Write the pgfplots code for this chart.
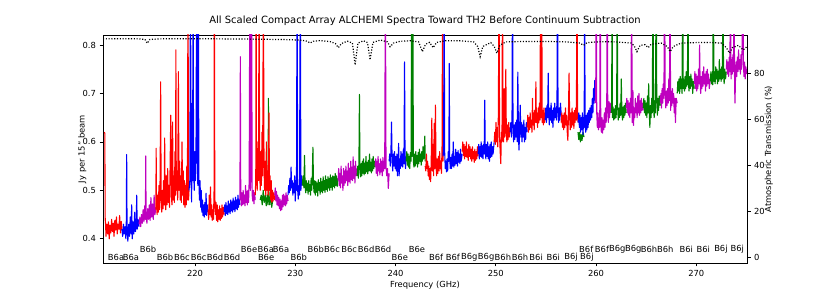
\documentclass[border=0pt]{standalone}
\usepackage{pgfplots}
\pgfplotsset{compat=1.18}
\usepackage{fontspec}
\setmainfont{DejaVu Sans}
\definecolor{cR}{rgb}{1,0,0}
\definecolor{cB}{rgb}{0,0,1}
\definecolor{cG}{rgb}{0,0.5,0}
\definecolor{cM}{rgb}{0.75,0,0.75}
\begin{document}
\begin{tikzpicture}
\path[use as bounding box] (0,0) rectangle (830bp,297bp);
\begin{axis}[
  at={(103bp,34bp)}, anchor=south west,
  scale only axis, width=644bp, height=228bp,
  xmin=210.82, xmax=275.06, ymin=0.350, ymax=0.8207,
  xtick={220,230,240,250,260,270},
  ytick={0.4,0.5,0.6,0.7,0.8},
  xtick pos=left, ytick pos=left,
  tick align=outside, major tick length=3.5bp,
  every tick/.style={black, line width=0.7bp},
  axis line style={line width=0.7bp},
  /pgf/number format/assume math mode=true,
  tick label style={font=\fontsize{8.4}{9.5}\selectfont},
  yticklabel style={/pgf/number format/.cd, fixed, precision=1, fixed zerofill},
  xticklabel style={/pgf/number format/.cd, fixed, precision=0},
  label style={font=\fontsize{8.4}{9.5}\selectfont},
  xlabel={Frequency (GHz)},
  xlabel style={at={(axis description cs:0.5,-0.097)}, anchor=center},
  ylabel={Jy per 15" beam},
  ylabel style={at={(axis description cs:-0.032,0.5)}, anchor=center, rotate=0},
  title={All Scaled Compact Array ALCHEMI Spectra Toward TH2 Before Continuum Subtraction},
  title style={font=\fontsize{10}{12}\selectfont, at={(axis description cs:0.5,1.037)}, anchor=center},
  every axis plot/.append style={line width=1.1bp, line join=round, no markers},
  clip=true,
]
% 1 red
\addplot[cR] coordinates {(210.95,0.62) (211.0,0.618) (211.04,0.44) (211.08,0.43) (211.12,0.405) (211.2,0.43) (211.28,0.41) (211.36,0.435) (211.44,0.40) (211.52,0.428) (211.6,0.412) (211.68,0.44) (211.76,0.415) (211.84,0.432) (211.92,0.405) (212.0,0.438) (212.08,0.418) (212.16,0.445) (212.24,0.41) (212.32,0.43) (212.4,0.42) (212.48,0.448) (212.56,0.412) (212.64,0.436) (212.72,0.418)};
% 2 blue
\addplot[cB] coordinates {(212.7,0.42) (212.78,0.405) (212.86,0.43) (212.94,0.41) (213.02,0.425) (213.1,0.40) (213.15,0.44) (213.18,0.574) (213.22,0.42) (213.3,0.395) (213.38,0.43) (213.46,0.405) (213.54,0.445) (213.62,0.41) (213.68,0.47) (213.74,0.40) (213.82,0.435) (213.9,0.41) (213.98,0.455) (214.06,0.415) (214.14,0.43) (214.18,0.49) (214.24,0.42) (214.32,0.44) (214.42,0.425)};
% 3 magenta
\addplot[cM] coordinates {(214.42,0.43) (214.5,0.445) (214.58,0.425) (214.66,0.45) (214.74,0.432) (214.82,0.46) (214.9,0.435) (214.98,0.468) (215.05,0.44) (215.08,0.571) (215.12,0.45) (215.2,0.432) (215.28,0.462) (215.36,0.44) (215.44,0.47) (215.52,0.438) (215.6,0.485) (215.68,0.445) (215.76,0.472) (215.84,0.44) (215.92,0.49) (216.0,0.45) (216.1,0.465)};
% 4 red
\addplot[cR] coordinates {(216.1,0.46) (216.12,0.587) (216.16,0.47) (216.22,0.45) (216.28,0.49) (216.34,0.455) (216.4,0.51) (216.46,0.46) (216.52,0.53) (216.57,0.724) (216.62,0.48) (216.68,0.455) (216.74,0.5) (216.8,0.462) (216.86,0.52) (216.92,0.47) (216.97,0.608) (217.02,0.48) (217.08,0.46) (217.14,0.53) (217.2,0.47) (217.27,0.545) (217.33,0.475) (217.4,0.51) (217.46,0.465) (217.52,0.56) (217.58,0.655) (217.64,0.49) (217.7,0.47) (217.76,0.641) (217.82,0.48) (217.88,0.53) (217.94,0.475) (218.0,0.58) (218.06,0.49) (218.09,0.79) (218.13,0.5) (218.2,0.54) (218.27,0.48) (218.34,0.745) (218.4,0.5) (218.46,0.56) (218.52,0.48) (218.58,0.53) (218.64,0.475) (218.7,0.6) (218.76,0.49) (218.82,0.54) (218.88,0.47) (218.94,0.52) (219.0,0.465) (219.06,0.51) (219.12,0.47) (219.18,0.55) (219.24,0.48) (219.3,0.95) (219.35,0.48) (219.4,0.5)};
% 5 blue
\addplot[cB] coordinates {(219.4,0.5) (219.48,0.52) (219.55,0.95) (219.6,0.53) (219.66,0.476) (219.72,0.68) (219.76,0.52) (219.8,0.95) (219.86,0.55) (219.92,0.5) (219.98,0.58) (220.04,0.52) (220.1,0.6) (220.16,0.95) (220.22,0.56) (220.28,0.51) (220.33,0.95) (220.38,0.53) (220.44,0.48) (220.5,0.52) (220.56,0.465) (220.62,0.5) (220.68,0.455) (220.74,0.48) (220.8,0.448) (220.86,0.47) (220.92,0.445) (220.98,0.475) (221.04,0.45) (221.1,0.494) (221.16,0.448) (221.22,0.47) (221.3,0.455)};
% 6 red
\addplot[cR] coordinates {(221.3,0.46) (221.36,0.44) (221.42,0.49) (221.48,0.45) (221.54,0.507) (221.6,0.445) (221.66,0.47) (221.72,0.438) (221.78,0.46) (221.84,0.44) (221.9,0.5) (221.93,0.95) (221.97,0.49) (222.03,0.45) (222.09,0.475) (222.15,0.438) (222.21,0.47) (222.27,0.435) (222.33,0.46) (222.39,0.44) (222.45,0.468) (222.51,0.438) (222.57,0.462) (222.63,0.442) (222.69,0.47) (222.75,0.445) (222.82,0.465) (222.9,0.45)};
% 7 blue
\addplot[cB] coordinates {(222.9,0.455) (222.96,0.47) (223.02,0.448) (223.08,0.475) (223.14,0.452) (223.2,0.468) (223.26,0.45) (223.32,0.478) (223.38,0.455) (223.44,0.472) (223.5,0.452) (223.56,0.48) (223.62,0.458) (223.68,0.476) (223.74,0.455) (223.8,0.484) (223.86,0.46) (223.92,0.478) (223.98,0.456) (224.04,0.486) (224.1,0.462) (224.16,0.48) (224.22,0.46) (224.28,0.49) (224.34,0.465) (224.4,0.482) (224.48,0.47)};
% 8 magenta
\addplot[cM] coordinates {(224.48,0.48) (224.52,0.776) (224.56,0.49) (224.62,0.468) (224.68,0.495) (224.74,0.47) (224.8,0.5) (224.86,0.472) (224.92,0.49) (224.98,0.468) (225.04,0.51) (225.1,0.475) (225.16,0.498) (225.22,0.47) (225.28,0.5) (225.34,0.475) (225.4,0.52) (225.47,0.95) (225.52,0.5) (225.58,0.53) (225.64,0.95) (225.7,0.49) (225.76,0.478) (225.82,0.5) (225.88,0.472) (225.94,0.495) (226.0,0.48)};
% hidden green
\addplot[cG] coordinates {(226.5,0.48) (226.6,0.49) (226.7,0.47) (226.8,0.5) (226.9,0.475) (227.0,0.49) (227.1,0.468) (227.2,0.49) (227.28,0.47) (227.32,0.69) (227.36,0.5) (227.45,0.47) (227.55,0.49) (227.65,0.465) (227.75,0.48)};
% 9 red
\addplot[cR] coordinates {(226.0,0.49) (226.06,0.52) (226.09,0.95) (226.13,0.55) (226.2,0.5) (226.27,0.6) (226.33,0.52) (226.39,0.95) (226.44,0.56) (226.5,0.5) (226.56,0.58) (226.62,0.51) (226.68,0.62) (226.74,0.53) (226.82,0.95) (226.88,0.55) (226.94,0.5) (227.0,0.56) (227.06,0.49) (227.12,0.6) (227.18,0.5) (227.24,0.54) (227.3,0.49) (227.38,0.66) (227.42,0.5) (227.48,0.53) (227.54,0.48) (227.6,0.52) (227.66,0.475) (227.72,0.5) (227.78,0.478) (227.86,0.495) (227.95,0.48)};
% 10 magenta
\addplot[cM] coordinates {(227.95,0.49) (228.0,0.505) (228.06,0.478) (228.12,0.498) (228.18,0.47) (228.24,0.49) (228.3,0.468) (228.36,0.485) (228.42,0.462) (228.48,0.482) (228.54,0.458) (228.6,0.478) (228.66,0.46) (228.72,0.49) (228.78,0.466) (228.84,0.492) (228.9,0.47) (228.96,0.488) (229.02,0.468) (229.08,0.495) (229.14,0.472) (229.2,0.49) (229.28,0.478)};
% 11 blue
\addplot[cB] coordinates {(229.28,0.49) (229.34,0.51) (229.4,0.495) (229.46,0.525) (229.52,0.5) (229.58,0.548) (229.64,0.505) (229.7,0.52) (229.76,0.49) (229.82,0.515) (229.88,0.495) (229.94,0.53) (230.0,0.478) (230.06,0.52) (230.12,0.5) (230.18,0.95) (230.24,0.5) (230.3,0.482) (230.36,0.51) (230.42,0.49) (230.5,0.95) (230.56,0.5) (230.62,0.53) (230.7,0.51)};
% 12 green
\addplot[cG] coordinates {(230.7,0.51) (230.78,0.53) (230.86,0.505) (230.92,0.572) (230.98,0.51) (231.04,0.495) (231.1,0.52) (231.16,0.5) (231.22,0.515) (231.28,0.492) (231.34,0.52) (231.4,0.498) (231.46,0.512) (231.52,0.49) (231.58,0.525) (231.64,0.5) (231.7,0.53) (231.76,0.589) (231.82,0.51) (231.88,0.495) (231.94,0.52) (232.0,0.49) (232.06,0.518) (232.12,0.496) (232.18,0.515) (232.24,0.488) (232.3,0.522) (232.36,0.5) (232.42,0.516) (232.48,0.492) (232.54,0.525) (232.6,0.498) (232.66,0.518) (232.72,0.495) (232.78,0.528) (232.84,0.5) (232.9,0.52) (232.96,0.496) (233.02,0.53) (233.08,0.502) (233.14,0.522) (233.2,0.498) (233.26,0.528) (233.32,0.505) (233.38,0.524) (233.44,0.5) (233.5,0.532) (233.56,0.506) (233.62,0.526) (233.68,0.5) (233.74,0.53) (233.8,0.508) (233.86,0.528) (233.92,0.505) (233.98,0.535) (234.04,0.51) (234.1,0.53) (234.18,0.508) (234.27,0.525)};
% 13 magenta
\addplot[cM] coordinates {(234.27,0.52) (234.33,0.545) (234.39,0.51) (234.45,0.535) (234.51,0.505) (234.57,0.55) (234.63,0.515) (234.69,0.53) (234.75,0.5) (234.81,0.545) (234.87,0.51) (234.93,0.54) (234.99,0.515) (235.05,0.55) (235.11,0.52) (235.17,0.54) (235.23,0.51) (235.29,0.556) (235.35,0.518) (235.41,0.545) (235.47,0.515) (235.53,0.56) (235.59,0.522) (235.65,0.548) (235.71,0.52) (235.77,0.569) (235.83,0.525) (235.89,0.55) (235.95,0.515) (236.01,0.56) (236.08,0.53) (236.17,0.545)};
% 14 green
\addplot[cG] coordinates {(236.17,0.53) (236.23,0.55) (236.29,0.525) (236.35,0.56) (236.4,0.698) (236.45,0.545) (236.51,0.528) (236.57,0.555) (236.63,0.53) (236.69,0.56) (236.75,0.535) (236.81,0.565) (236.87,0.532) (236.93,0.556) (236.99,0.535) (237.05,0.57) (237.11,0.538) (237.17,0.558) (237.23,0.534) (237.29,0.562) (237.35,0.54) (237.41,0.575) (237.47,0.54) (237.53,0.558) (237.59,0.536) (237.65,0.565) (237.71,0.54) (237.77,0.57) (237.83,0.545) (237.9,0.56) (237.96,0.548)};
% 15 magenta
\addplot[cM] coordinates {(237.96,0.55) (238.02,0.565) (238.08,0.535) (238.14,0.56) (238.2,0.53) (238.26,0.57) (238.32,0.54) (238.38,0.555) (238.44,0.532) (238.5,0.565) (238.56,0.538) (238.62,0.56) (238.68,0.53) (238.74,0.568) (238.8,0.54) (238.86,0.56) (238.92,0.545) (238.99,0.95) (239.05,0.55) (239.12,0.53) (239.2,0.545) (239.28,0.504) (239.36,0.535)};
% 16 blue
\addplot[cB] coordinates {(239.36,0.56) (239.42,0.575) (239.48,0.55) (239.54,0.58) (239.6,0.641) (239.66,0.56) (239.72,0.54) (239.78,0.575) (239.84,0.55) (239.9,0.58) (239.96,0.545) (240.02,0.57) (240.08,0.54) (240.14,0.575) (240.2,0.53) (240.26,0.56) (240.31,0.597) (240.36,0.53) (240.42,0.565) (240.48,0.545) (240.54,0.58) (240.6,0.55) (240.66,0.575) (240.72,0.548) (240.78,0.585) (240.84,0.555) (240.9,0.765) (240.95,0.56) (241.0,0.545) (241.06,0.57)};
% 17 green
\addplot[cG] coordinates {(241.06,0.56) (241.12,0.58) (241.18,0.552) (241.24,0.575) (241.3,0.548) (241.36,0.57) (241.42,0.545) (241.48,0.578) (241.55,0.56) (241.61,0.95) (241.66,0.57) (241.72,0.95) (241.78,0.56) (241.84,0.548) (241.9,0.575) (241.96,0.55) (242.02,0.58) (242.08,0.555) (242.14,0.572) (242.2,0.548) (242.26,0.578) (242.32,0.555) (242.38,0.585) (242.44,0.56) (242.5,0.575) (242.56,0.552) (242.62,0.58) (242.68,0.56) (242.74,0.59) (242.8,0.565) (242.86,0.57) (242.92,0.612) (242.96,0.56)};
% 18 red
\addplot[cR] coordinates {(242.96,0.55) (243.02,0.54) (243.08,0.575) (243.14,0.545) (243.2,0.56) (243.26,0.53) (243.32,0.55) (243.38,0.522) (243.44,0.545) (243.5,0.518) (243.56,0.56) (243.62,0.649) (243.68,0.54) (243.74,0.595) (243.8,0.53) (243.86,0.638) (243.92,0.545) (243.98,0.676) (244.04,0.55) (244.1,0.53) (244.16,0.565) (244.22,0.535) (244.28,0.57) (244.34,0.54) (244.4,0.58) (244.46,0.545) (244.52,0.56) (244.58,0.535) (244.64,0.59) (244.7,0.95) (244.75,0.56)};
% 19 blue
\addplot[cB] coordinates {(244.75,0.57) (244.8,0.6) (244.85,0.95) (244.9,0.58) (244.96,0.545) (245.02,0.56) (245.08,0.538) (245.14,0.565) (245.2,0.54) (245.26,0.58) (245.32,0.56) (245.36,0.762) (245.4,0.57) (245.46,0.545) (245.52,0.568) (245.58,0.545) (245.64,0.575) (245.7,0.55) (245.76,0.6) (245.82,0.548) (245.88,0.57) (245.94,0.552) (246.0,0.585) (246.06,0.555) (246.12,0.578) (246.18,0.55) (246.24,0.582) (246.3,0.558) (246.36,0.575) (246.42,0.555) (246.48,0.585) (246.54,0.56) (246.65,0.575)};
% 20 red
\addplot[cR] coordinates {(246.65,0.58) (246.71,0.6) (246.77,0.572) (246.83,0.595) (246.89,0.565) (246.95,0.59) (247.01,0.57) (247.07,0.6) (247.13,0.568) (247.19,0.585) (247.25,0.562) (247.31,0.595) (247.37,0.57) (247.43,0.59) (247.49,0.565) (247.55,0.585) (247.61,0.56) (247.67,0.59) (247.73,0.565) (247.79,0.58) (247.85,0.558) (247.91,0.585) (247.97,0.562) (248.03,0.58) (248.1,0.565) (248.17,0.59) (248.24,0.57)};
% 21 blue
\addplot[cB] coordinates {(248.24,0.575) (248.3,0.595) (248.36,0.565) (248.42,0.59) (248.48,0.57) (248.54,0.6) (248.6,0.568) (248.66,0.592) (248.72,0.565) (248.78,0.595) (248.84,0.575) (248.9,0.686) (248.95,0.58) (249.01,0.565) (249.07,0.595) (249.13,0.57) (249.19,0.6) (249.25,0.565) (249.31,0.59) (249.37,0.56) (249.43,0.595) (249.49,0.568) (249.55,0.6) (249.61,0.57) (249.67,0.59) (249.73,0.575) (249.84,0.6)};
% 22 red
\addplot[cR] coordinates {(249.84,0.6) (249.9,0.62) (249.96,0.595) (250.02,0.64) (250.08,0.6) (250.14,0.63) (250.2,0.59) (250.26,0.66) (250.32,0.95) (250.38,0.61) (250.44,0.58) (250.5,0.555) (250.56,0.62) (250.62,0.6) (250.67,0.95) (250.72,0.62) (250.78,0.6) (250.84,0.71) (250.9,0.61) (250.96,0.64) (251.0,0.75) (251.05,0.62) (251.11,0.6) (251.17,0.635) (251.23,0.605) (251.29,0.64) (251.35,0.61) (251.44,0.63)};
% 23 blue
\addplot[cB] coordinates {(251.44,0.62) (251.5,0.64) (251.56,0.61) (251.62,0.65) (251.67,0.95) (251.72,0.63) (251.78,0.6) (251.84,0.635) (251.9,0.605) (251.96,0.64) (252.02,0.61) (252.08,0.645) (252.14,0.6) (252.2,0.744) (252.26,0.61) (252.32,0.583) (252.38,0.63) (252.44,0.676) (252.5,0.61) (252.56,0.64) (252.62,0.6) (252.68,0.635) (252.74,0.61) (252.8,0.645) (252.86,0.6) (252.92,0.63) (252.98,0.605) (253.05,0.64) (253.13,0.62)};
% 24 red
\addplot[cR] coordinates {(253.13,0.63) (253.19,0.655) (253.25,0.62) (253.31,0.65) (253.37,0.625) (253.43,0.66) (253.49,0.63) (253.55,0.645) (253.61,0.62) (253.66,0.69) (253.71,0.635) (253.77,0.66) (253.83,0.625) (253.89,0.665) (253.95,0.64) (254.0,0.724) (254.05,0.64) (254.11,0.66) (254.17,0.63) (254.23,0.67) (254.29,0.64) (254.35,0.68) (254.41,0.645) (254.47,0.95) (254.53,0.65) (254.58,0.95) (254.63,0.64) (254.69,0.665) (254.75,0.635) (254.81,0.67) (254.87,0.64) (254.93,0.655)};
% 25 blue
\addplot[cB] coordinates {(254.93,0.645) (254.99,0.67) (255.05,0.64) (255.11,0.675) (255.17,0.65) (255.23,0.742) (255.28,0.66) (255.34,0.635) (255.4,0.67) (255.46,0.645) (255.52,0.68) (255.58,0.64) (255.64,0.665) (255.7,0.63) (255.76,0.67) (255.82,0.645) (255.88,0.68) (255.94,0.65) (256.0,0.67) (256.06,0.645) (256.11,0.7) (256.16,0.95) (256.21,0.66) (256.27,0.64) (256.33,0.67) (256.39,0.645) (256.45,0.68) (256.53,0.655)};
% 26 red
\addplot[cR] coordinates {(256.53,0.64) (256.59,0.66) (256.65,0.63) (256.71,0.655) (256.77,0.625) (256.83,0.66) (256.89,0.63) (256.95,0.67) (257.01,0.635) (257.07,0.655) (257.13,0.62) (257.19,0.603) (257.25,0.66) (257.31,0.742) (257.37,0.65) (257.43,0.625) (257.49,0.66) (257.55,0.63) (257.61,0.67) (257.67,0.635) (257.73,0.66) (257.79,0.628) (257.85,0.665) (257.91,0.64) (257.97,0.67) (258.04,0.645) (258.1,0.95) (258.16,0.65) (258.22,0.64)};
% green fragment
\addplot[cG] coordinates {(258.2,0.62) (258.28,0.605) (258.36,0.62) (258.44,0.6) (258.52,0.615) (258.6,0.603) (258.7,0.62) (258.8,0.61)};
% 27 blue
\addplot[cB] coordinates {(258.22,0.64) (258.28,0.66) (258.34,0.63) (258.4,0.655) (258.46,0.62) (258.52,0.65) (258.58,0.625) (258.64,0.66) (258.7,0.615) (258.76,0.65) (258.82,0.63) (258.86,0.95) (258.91,0.64) (258.97,0.62) (259.03,0.655) (259.09,0.625) (259.15,0.66) (259.21,0.63) (259.27,0.665) (259.33,0.64) (259.39,0.67) (259.45,0.645) (259.51,0.675) (259.57,0.65) (259.63,0.69) (259.69,0.66) (259.75,0.71) (259.81,0.68) (259.87,0.727) (259.92,0.7)};
% 28 magenta
\addplot[cM] coordinates {(259.92,0.68) (259.97,0.7) (260.02,0.95) (260.07,0.66) (260.13,0.63) (260.19,0.66) (260.25,0.625) (260.31,0.65) (260.37,0.63) (260.42,0.95) (260.47,0.64) (260.53,0.62) (260.59,0.65) (260.65,0.618) (260.71,0.645) (260.77,0.625) (260.83,0.66) (260.89,0.63) (260.95,0.67) (261.01,0.64) (261.07,0.68) (261.12,0.95) (261.17,0.66) (261.23,0.64) (261.29,0.683) (261.35,0.65) (261.41,0.68) (261.52,0.66)};
% 29 green
\addplot[cG] coordinates {(261.52,0.66) (261.56,0.675) (261.6,0.95) (261.64,0.65) (261.7,0.672) (261.76,0.645) (261.82,0.668) (261.88,0.648) (261.94,0.675) (262.0,0.65) (262.06,0.68) (262.11,0.95) (262.16,0.67) (262.22,0.645) (262.28,0.67) (262.34,0.65) (262.4,0.68) (262.46,0.655) (262.52,0.73) (262.58,0.66) (262.64,0.645) (262.7,0.672) (262.76,0.65) (262.82,0.675) (262.88,0.655) (262.94,0.68) (263.01,0.66)};
% 30 magenta
\addplot[cM] coordinates {(263.01,0.67) (263.07,0.69) (263.13,0.66) (263.19,0.685) (263.25,0.655) (263.31,0.68) (263.37,0.65) (263.43,0.69) (263.49,0.66) (263.55,0.95) (263.61,0.64) (263.68,0.706) (263.74,0.634) (263.8,0.67) (263.86,0.65) (263.92,0.69) (263.98,0.66) (264.04,0.68) (264.1,0.65) (264.16,0.695) (264.22,0.66) (264.28,0.70) (264.34,0.655) (264.4,0.685) (264.46,0.66) (264.52,0.69) (264.58,0.665) (264.64,0.68) (264.71,0.665)};
% 31 green
\addplot[cG] coordinates {(264.71,0.67) (264.77,0.69) (264.83,0.66) (264.89,0.685) (264.95,0.655) (265.01,0.68) (265.07,0.65) (265.13,0.695) (265.19,0.66) (265.25,0.72) (265.31,0.66) (265.37,0.63) (265.43,0.675) (265.49,0.65) (265.55,0.69) (265.61,0.66) (265.68,0.95) (265.74,0.67) (265.8,0.65) (265.86,0.685) (265.92,0.66) (266.0,0.95) (266.06,0.68) (266.12,0.655) (266.18,0.69) (266.24,0.665) (266.3,0.695) (266.41,0.675)};
% 32 magenta
\addplot[cM] coordinates {(266.41,0.68) (266.47,0.7) (266.53,0.67) (266.59,0.71) (266.65,0.68) (266.71,0.72) (266.77,0.69) (266.84,0.95) (266.9,0.7) (266.96,0.67) (267.02,0.705) (267.08,0.675) (267.14,0.71) (267.2,0.68) (267.26,0.73) (267.32,0.685) (267.38,0.95) (267.44,0.665) (267.5,0.705) (267.56,0.675) (267.62,0.71) (267.68,0.68) (267.74,0.7) (267.8,0.66) (267.86,0.69) (267.92,0.64) (268.0,0.69) (268.1,0.68)};
% 33 green
\addplot[cG] coordinates {(268.1,0.7) (268.16,0.725) (268.22,0.705) (268.28,0.73) (268.34,0.7) (268.4,0.735) (268.46,0.71) (268.52,0.73) (268.58,0.7) (268.64,0.95) (268.7,0.71) (268.76,0.728) (268.82,0.705) (268.88,0.735) (268.94,0.71) (269.0,0.745) (269.06,0.715) (269.12,0.73) (269.17,0.95) (269.22,0.72) (269.28,0.705) (269.34,0.735) (269.4,0.71) (269.46,0.74) (269.52,0.715) (269.58,0.73) (269.64,0.7) (269.72,0.725) (269.8,0.71)};
% 34 magenta
\addplot[cM] coordinates {(269.8,0.72) (269.86,0.745) (269.92,0.71) (269.98,0.74) (270.04,0.705) (270.1,0.735) (270.16,0.71) (270.22,0.75) (270.28,0.72) (270.33,0.8) (270.38,0.725) (270.44,0.7) (270.5,0.735) (270.56,0.71) (270.62,0.745) (270.68,0.715) (270.74,0.755) (270.8,0.72) (270.86,0.74) (270.92,0.705) (270.98,0.745) (271.04,0.715) (271.1,0.75) (271.16,0.72) (271.22,0.74) (271.3,0.71) (271.4,0.73)};
% 35 green
\addplot[cG] coordinates {(271.4,0.725) (271.46,0.745) (271.52,0.72) (271.58,0.74) (271.64,0.718) (271.7,0.95) (271.76,0.725) (271.82,0.745) (271.88,0.72) (271.94,0.755) (272.0,0.73) (272.06,0.75) (272.12,0.72) (272.18,0.745) (272.24,0.725) (272.3,0.77) (272.36,0.73) (272.42,0.75) (272.48,0.725) (272.54,0.755) (272.6,0.73) (272.66,0.95) (272.72,0.74) (272.78,0.72) (272.84,0.75) (272.92,0.73) (272.99,0.745)};
% 36 magenta
\addplot[cM] coordinates {(272.99,0.75) (273.05,0.77) (273.11,0.74) (273.17,0.765) (273.23,0.735) (273.29,0.775) (273.35,0.745) (273.41,0.95) (273.47,0.73) (273.53,0.77) (273.59,0.74) (273.65,0.78) (273.71,0.745) (273.77,0.95) (273.82,0.72) (273.86,0.68) (273.92,0.74) (273.98,0.765) (274.04,0.735) (274.1,0.775) (274.16,0.745) (274.22,0.79) (274.28,0.75) (274.34,0.77) (274.4,0.74) (274.46,0.78) (274.52,0.75) (274.58,0.8) (274.64,0.95) (274.7,0.76) (274.76,0.735) (274.82,0.765) (274.88,0.73) (274.94,0.755) (275.06,0.74)};
% labels
\begin{scope}[every node/.style={font=\fontsize{8.4}{9.5}\selectfont, inner sep=0pt, anchor=center}]
\node at (axis cs:212.12,0.362) {B6a};
\node at (axis cs:213.61,0.362) {B6a};
\node at (axis cs:217.01,0.362) {B6b};
\node at (axis cs:218.70,0.362) {B6c};
\node at (axis cs:220.37,0.362) {B6c};
\node at (axis cs:222.00,0.362) {B6d};
\node at (axis cs:223.69,0.362) {B6d};
\node at (axis cs:227.09,0.362) {B6e};
\node at (axis cs:230.35,0.362) {B6b};
\node at (axis cs:240.43,0.362) {B6e};
\node at (axis cs:244.05,0.362) {B6f};
\node at (axis cs:245.72,0.362) {B6f};
\node at (axis cs:247.35,0.362) {B6g};
\node at (axis cs:249.04,0.362) {B6g};
\node at (axis cs:250.71,0.362) {B6h};
\node at (axis cs:252.41,0.362) {B6h};
\node at (axis cs:254.03,0.362) {B6i};
\node at (axis cs:255.73,0.362) {B6i};
\node at (axis cs:257.50,0.362) {B6j};
\node at (axis cs:259.09,0.362) {B6j};
\node at (axis cs:215.31,0.3776) {B6b};
\node at (axis cs:225.39,0.3776) {B6e};
\node at (axis cs:227.06,0.3776) {B6a};
\node at (axis cs:228.58,0.3776) {B6a};
\node at (axis cs:232.05,0.3776) {B6b};
\node at (axis cs:233.67,0.3776) {B6c};
\node at (axis cs:235.37,0.3776) {B6c};
\node at (axis cs:237.07,0.3776) {B6d};
\node at (axis cs:238.76,0.3776) {B6d};
\node at (axis cs:242.13,0.3776) {B6e};
\node at (axis cs:259.02,0.3776) {B6f};
\node at (axis cs:260.59,0.3776) {B6f};
\node at (axis cs:262.12,0.3776) {B6g};
\node at (axis cs:263.71,0.3776) {B6g};
\node at (axis cs:265.28,0.3776) {B6h};
\node at (axis cs:266.91,0.3776) {B6h};
\node at (axis cs:269.00,0.3776) {B6i};
\node at (axis cs:270.70,0.3776) {B6i};
\node at (axis cs:272.46,0.3776) {B6j};
\node at (axis cs:274.09,0.3776) {B6j};
\end{scope}
\end{axis}
\begin{axis}[
  at={(103bp,34bp)}, anchor=south west,
  scale only axis, width=644bp, height=228bp,
  xmin=210.82, xmax=275.06, ymin=-2.6, ymax=96.5,
  axis x line=none, axis y line*=right,
  ytick={0,20,40,60,80},
  tick align=outside, major tick length=3.5bp,
  every tick/.style={black, line width=0.7bp},
  axis line style={line width=0.7bp},
  /pgf/number format/assume math mode=true,
  tick label style={font=\fontsize{8.4}{9.5}\selectfont},
  label style={font=\fontsize{8.4}{9.5}\selectfont},
  ylabel={Atmospheric Transmission (\%)},
  ylabel style={at={(axis description cs:1.034,0.5)}, anchor=center, rotate=0},
  clip=true,
]
\addplot[black, line width=1.2bp, dash pattern=on 1.1bp off 1.7bp, no markers] coordinates {(210.82,94.8) (212,94.9) (214,94.9) (215,94.6) (215.24,92.9) (215.5,94.6) (217,94.9) (220,94.9) (223,94.8) (226,94.7) (229,94.5) (230.5,94.3) (231.2,93.8) (231.48,93.0) (231.8,93.8) (232.5,94.1) (233.5,93.6) (234.0,92.8) (234.3,91.0) (234.6,92.8) (235.2,93.8) (235.7,93.0) (235.97,83.5) (236.25,93.0) (236.8,94.0) (237.2,93.2) (237.46,85.7) (237.75,93.3) (238.5,94.3) (239.2,93.5) (239.46,91.4) (239.8,93.0) (240.5,93.8) (241.5,94.0) (242.3,93.5) (242.68,89.3) (243.0,92.5) (243.4,93.3) (243.75,91.0) (244.1,93.3) (245,94.0) (246.5,94.0) (247.8,93.5) (248.2,91.5) (248.44,87.1) (248.7,91.5) (249.5,93.2) (249.85,91.5) (250.11,88.6) (250.4,92.0) (251,93.5) (253,93.7) (255,93.7) (257,93.5) (258.4,93.0) (258.75,92.0) (259.1,93.2) (260.5,93.6) (262,93.5) (263.5,93.0) (263.8,91.8) (264.08,89.3) (264.4,92.0) (264.9,92.3) (265.21,91.0) (265.5,92.5) (266.5,93.0) (267.1,91.5) (267.4,89.3) (267.7,91.5) (268.5,93.0) (270,93.2) (271.5,93.2) (272.5,93.0) (273.0,91.0) (273.32,88.6) (273.6,91.0) (274.2,92.0) (274.69,90.0) (275.06,91.5)};
\end{axis}
\end{tikzpicture}
\end{document}
